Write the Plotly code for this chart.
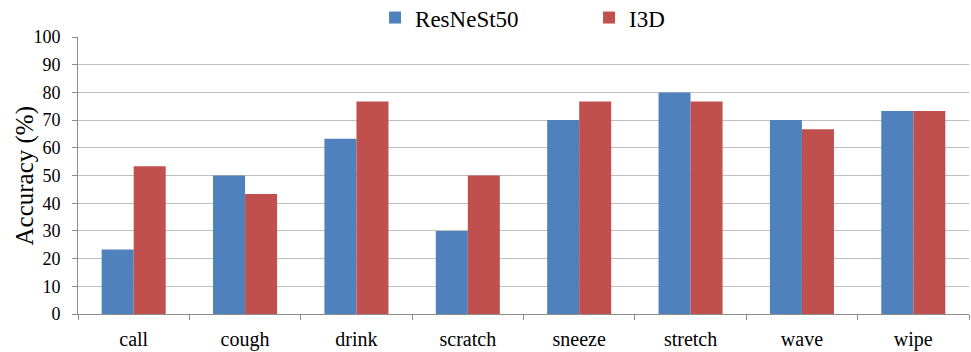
import plotly.graph_objects as go

# Per-class accuracy (%) for the two models
actions = ["call", "cough", "drink", "scratch", "sneeze", "stretch", "wave", "wipe"]
resnest50 = [23.3, 50.0, 63.3, 30.0, 70.0, 80.0, 70.0, 73.3]
i3d = [53.3, 43.3, 76.7, 50.0, 76.7, 76.7, 66.7, 73.3]
y_ticks = list(range(0, 101, 10))

FONT = "Liberation Serif"
AXIS_GRAY = "#8C8C8C"
GRID_GRAY = "#BFBFBF"

fig = go.Figure()
fig.add_trace(go.Bar(name="ResNeSt50", x=actions, y=resnest50,
                     marker=dict(color="#4F81BD", line=dict(width=0))))
fig.add_trace(go.Bar(name="I3D", x=actions, y=i3d,
                     marker=dict(color="#C0504D", line=dict(width=0))))

fig.update_layout(
    width=971, height=352,
    margin=dict(l=78, r=2, t=37, b=38, autoexpand=False),
    paper_bgcolor="white", plot_bgcolor="white",
    barmode="group", bargap=0.425, bargroupgap=0,
    font=dict(family=FONT, color="black"),
    legend=dict(orientation="h", x=0.3334, xanchor="left",
                yref="container", y=0.95, yanchor="middle",
                font=dict(size=23, family=FONT), entrywidth=169,
                itemwidth=30, bgcolor="rgba(0,0,0,0)"),
    showlegend=True,
)
fig.update_xaxes(
    showline=True, linecolor=AXIS_GRAY, linewidth=1,
    ticks="outside", ticklen=5, tickcolor=AXIS_GRAY, tickson="boundaries",
    tickfont=dict(size=20, family=FONT), ticklabelstandoff=7,
    showgrid=False,
)
fig.update_yaxes(
    range=[0, 100], tickvals=y_ticks, ticktext=[str(v) for v in y_ticks],
    showline=True, linecolor=AXIS_GRAY, linewidth=1,
    ticks="outside", ticklen=5, tickcolor=AXIS_GRAY,
    showgrid=True, gridcolor=GRID_GRAY, gridwidth=1,
    zeroline=False,
    tickfont=dict(size=18, family=FONT), ticklabelstandoff=8,
)

# Vertical y-axis caption, placed close to the two-digit tick labels
fig.add_annotation(
    text="Accuracy (%)", textangle=-90,
    xref="paper", yref="paper", x=-0.0595, y=0.5,
    xanchor="center", yanchor="middle", showarrow=False,
    font=dict(size=25, family=FONT, color="black"),
)

fig.write_html("out.html")
